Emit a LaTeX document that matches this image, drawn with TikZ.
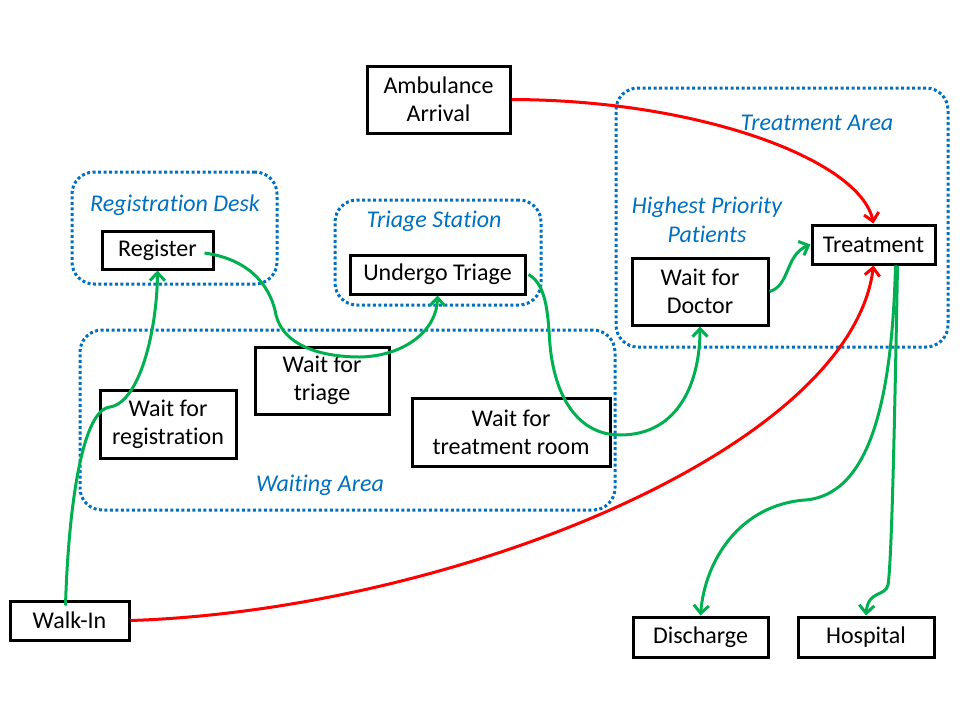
\documentclass[tikz,border=0pt]{standalone}
\usepackage{fontspec}
\setmainfont{Carlito}[Ligatures=NoCommon]
\usetikzlibrary{arrows.meta, positioning}
\definecolor{zoneblue}{RGB}{0,112,192}
\definecolor{flowgreen}{RGB}{0,176,80}

\begin{document}
\begin{tikzpicture}[x=1pt, y=-1pt, >={Straight Barb[length=8pt,width=15pt]}, line width=3pt, font=\fontsize{24}{28}\selectfont]
  \tikzstyle{stage} = [rectangle, draw, fill=white, align=center, inner sep=0pt, line width=3pt]
  \tikzstyle{zone} = [rectangle, draw=zoneblue, rounded corners=22pt, dash pattern=on 3pt off 2.5pt, line width=3pt, inner sep=0pt]
  \tikzstyle{zonelabel} = [text=zoneblue, font=\fontsize{24}{29}\selectfont\itshape, align=center]
  \tikzstyle{flow} = [->, draw=flowgreen, line width=3pt]
  \tikzstyle{rush} = [->, draw=red, line width=3pt]

  \useasboundingbox (0,0) rectangle (960,720);

  % areas
  \node[zone, minimum width=205pt, minimum height=112pt] (Desk) at (174.5,228) {};
  \node[zone, minimum width=206pt, minimum height=105pt] (Station) at (438,252.5) {};
  \node[zone, minimum width=535pt, minimum height=180pt] (Waiting) at (347.5,420) {};
  \node[zone, minimum width=332pt, minimum height=259pt] (Area) at (782,217.5) {};

  \node[zonelabel] (DeskLabel) at (175,205) {Registration Desk};
  \node[zonelabel] (StationLabel) at (434,221) {Triage Station};
  \node[zonelabel] (WaitingLabel) at (320,485) {Waiting Area};
  \node[zonelabel] (AreaLabel) at (817,123) {Treatment Area};
  \node[zonelabel] (PriorityLabel) at (707,220) {Highest Priority\\Patients};

  % stages
  \node[stage, minimum width=143pt, minimum height=67pt] (Ambulance) at (438.5,99.5) {Ambulance\\Arrival};
  \node[stage, minimum width=111pt, minimum height=38pt] (Register) at (157.5,250) {Register};
  \node[stage, minimum width=175pt, minimum height=39pt] (Triage) at (437.5,274.5) {Undergo Triage};
  \node[stage, minimum width=134pt, minimum height=67pt] (WaitTriage) at (322,380.5) {Wait for\\triage};
  \node[stage, minimum width=136pt, minimum height=68pt] (WaitReg) at (168,424) {Wait for\\registration};
  \node[stage, minimum width=198pt, minimum height=68pt] (WaitRoom) at (511,432) {Wait for\\treatment room};
  \node[stage, minimum width=136pt, minimum height=67pt] (WaitDoctor) at (700,291.5) {Wait for\\Doctor};
  \node[stage, minimum width=123pt, minimum height=39pt] (Treatment) at (873.5,244.5) {Treatment};
  \node[stage, minimum width=119pt, minimum height=39pt] (WalkIn) at (69.5,620.5) {Walk-In};
  \node[stage, minimum width=135pt, minimum height=40pt] (Discharge) at (700.5,637) {Discharge};
  \node[stage, minimum width=136pt, minimum height=40pt, right=27pt of Discharge] (Hospital) {Hospital};

  % patient flow
  \draw[flow] ([xshift=-4pt, yshift=-6pt]WalkIn.north) .. controls (68,520) and (80,410) .. (110,407)
    .. controls (140,402) and (157,330) .. (Register.south);
  \draw[flow] ([xshift=-10pt, yshift=-3pt]Register.east) .. controls (255,260) and (272,292) .. (276,315)
    .. controls (285,350) and (330,357) .. (360,357) .. controls (405,356) and (437,330) .. (Triage.south);
  \draw[flow] ([xshift=2pt]Triage.east) .. controls (548,285) and (548,320) .. (550,345)
    .. controls (555,400) and (580,435) .. (620,435) .. controls (680,435) and (700,380) .. (WaitDoctor.south);
  \draw[flow] (WaitDoctor.east) .. controls (790,286) and (785,255) .. (Treatment.west);
  \draw[flow] ([xshift=22pt]Treatment.south) .. controls (892,400) and (870,495) .. (805,500)
    .. controls (740,505) and (705,560) .. (Discharge.north);
  \draw[flow] ([xshift=24pt]Treatment.south) .. controls (895,400) and (892,560) .. (888,585)
    .. controls (885,597) and (868,590) .. (Hospital.north);

  % priority arrivals
  \draw[rush] (Ambulance.east) .. controls (700,100) and (860,160) .. (Treatment.north);
  \draw[rush] (WalkIn.east) .. controls (450,610) and (850,450) .. (Treatment.south);
\end{tikzpicture}
\end{document}
